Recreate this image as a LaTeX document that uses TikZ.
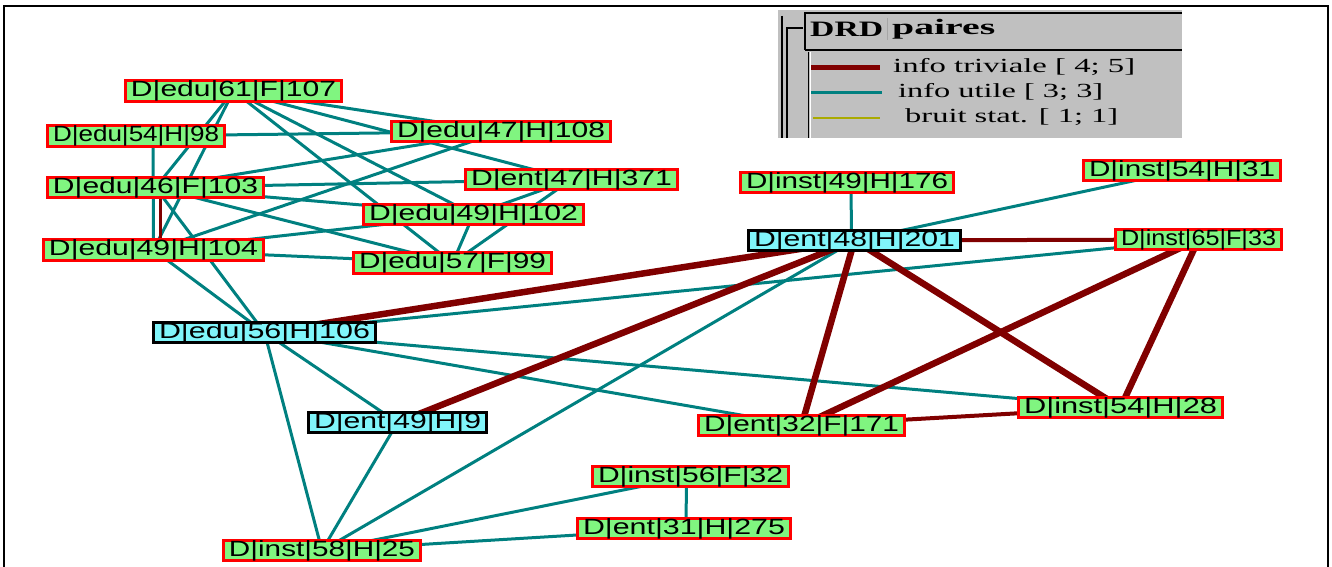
\documentclass[tikz,border=0pt]{standalone}
\usepackage{fontspec}
\usepackage{graphicx}
\setmainfont{Liberation Serif}
\newfontfamily\nfont{Liberation Sans}
\pgfdeclarelayer{bg}
\pgfsetlayers{bg,main}
\definecolor{tealc}{RGB}{0,128,128}
\definecolor{maroonc}{RGB}{128,0,0}
\definecolor{gnode}{RGB}{128,245,128}
\definecolor{cnode}{RGB}{128,245,250}
\definecolor{legbg}{RGB}{192,192,192}
\definecolor{olivec}{RGB}{170,170,0}
\definecolor{redb}{RGB}{255,0,0}
\newcommand{\lbl}[2]{\resizebox{#1pt}{\height}{\nfont #2}}
\newcommand{\lgt}[2]{\resizebox{#1pt}{\height}{\fontsize{20}{20}\selectfont #2}}
\newcommand{\lgh}[2]{\resizebox{#1pt}{\height}{\fontsize{22}{22}\selectfont\bfseries #2}}
\tikzset{
  gn/.style={draw=redb, line width=3pt, fill=gnode, inner sep=0pt, minimum height=20pt,
             font=\fontsize{22}{22}\selectfont},
  cn/.style={gn, draw=black, fill=cnode},
  ut/.style={draw=tealc, line width=3pt},
  tr/.style={draw=maroonc, line width=6.5pt},
  trm/.style={draw=maroonc, line width=4pt},
  trs/.style={draw=maroonc, line width=3pt},
  lg/.style={anchor=west, inner sep=0pt},
}
\begin{document}
\begin{tikzpicture}[x=1pt,y=-1pt]
\useasboundingbox (0,0) rectangle (1332,567);
\draw[line width=2pt] (4,568) -- (4,6) -- (1328,6) -- (1328,568);

% legend
\fill[legbg] (778,10) rectangle (1182,138);
\draw[line width=2pt] (782,16) -- (782,138);
\draw[line width=1.5pt] (787,138) -- (787,28) -- (803,28);
\draw[line width=2pt] (805,50) -- (805,13) -- (1182,13);
\draw[line width=1.2pt] (805,50) -- (1182,50);
\draw[line width=1pt] (808,52) -- (808,138);
\draw[white, line width=1pt] (810,52) -- (810,138);
\draw[gray!70, line width=1pt] (887,18) -- (887,40);
\draw[maroonc, line width=5pt] (811,68) -- (880,68);
\draw[tealc, line width=3pt] (811,93) -- (882,93);
\draw[olivec, line width=1.2pt] (813,118) -- (880,118);
\node[lg] (lh1) at (810,29) {\lgh{73}{DRD}};
\node[lg] (lh2) at (892,29) {\lgh{103}{paires}};
\node[lg] (lt1) at (893,67) {\lgt{242}{info triviale [ 4; 5]}};
\node[lg] (lt2) at (898,92) {\lgt{205}{info utile [ 3; 3]}};
\node[lg] (lt3) at (905,117) {\lgt{213}{bruit stat. [ 1; 1]}};

% nodes
\node[gn, minimum width=216pt] (A) at (233.5,91) {\lbl{205}{D|edu|61|F|107}};
\node[gn, minimum width=177pt] (B) at (136,136) {\lbl{166}{D|edu|54|H|98}};
\node[gn, minimum width=219pt] (C) at (501,131.5) {\lbl{208}{D|edu|47|H|108}};
\node[gn, minimum width=216pt] (D) at (155.5,187.5) {\lbl{205}{D|edu|46|F|103}};
\node[gn, minimum width=212pt] (E) at (571.5,179.5) {\lbl{201}{D|ent|47|H|371}};
\node[gn, minimum width=220pt] (F) at (473.5,214.5) {\lbl{209}{D|edu|49|H|102}};
\node[gn, minimum width=220pt] (G) at (153.5,250) {\lbl{209}{D|edu|49|H|104}};
\node[gn, minimum width=198pt] (H) at (452.5,263) {\lbl{187}{D|edu|57|F|99}};
\node[gn, minimum width=213pt] (n9) at (847,182.5) {\lbl{202}{D|inst|49|H|176}};
\node[gn, minimum width=197pt] (n10) at (1182,170.5) {\lbl{186}{D|inst|54|H|31}};
\node[cn, minimum width=212pt] (n11) at (854.5,240.5) {\lbl{201}{D|ent|48|H|201}};
\node[gn, minimum width=166pt] (n12) at (1198.5,239.5) {\lbl{155}{D|inst|65|F|33}};
\node[cn, minimum width=222pt] (I) at (264.5,332.5) {\lbl{211}{D|edu|56|H|106}};
\node[cn, minimum width=178pt] (n14) at (397.5,422.5) {\lbl{167}{D|ent|49|H|9}};
\node[gn, minimum width=206pt] (n15) at (801.5,425.5) {\lbl{195}{D|ent|32|F|171}};
\node[gn, minimum width=204pt] (n16) at (1120.5,407.5) {\lbl{193}{D|inst|54|H|28}};
\node[gn, minimum width=196pt] (n17) at (690.5,476.5) {\lbl{185}{D|inst|56|F|32}};
\node[gn, minimum width=213pt] (n18) at (684,528.5) {\lbl{202}{D|ent|31|H|275}};
\node[gn, minimum width=197pt] (n19) at (322,550.5) {\lbl{186}{D|inst|58|H|25}};

\begin{pgfonlayer}{bg}
% useful (teal) links
\draw[ut] ([xshift=4pt]n9.center) -- ([xshift=-3pt]n11.center);
\draw[ut] (n10.center) -- (n11.center);
\draw[ut] (n11.center) -- (n19.center);
\draw[ut] (n12.center) -- (I.center);
\draw[ut] (I.center) -- (n16.center);
\draw[ut] (I.center) -- (n15.center);
\draw[ut] (I.center) -- (n14.center);
\draw[ut] (I.center) -- (n19.center);
\draw[ut] (n14.center) -- (n19.center);
\draw[ut] (n17.center) -- (n19.center);
\draw[ut] ([xshift=-4pt]n17.center) -- ([xshift=2pt]n18.center);
\draw[ut] (n18.center) -- (n19.center);
\draw[ut] (A.center) -- (C.center);
\draw[ut] (A.center) -- (D.center);
\draw[ut] (A.center) -- (E.center);
\draw[ut] (A.center) -- (F.center);
\draw[ut] (A.center) -- (G.center);
\draw[ut] (A.center) -- (H.center);
\draw[ut] (B.center) -- (C.center);
\draw[ut] ([xshift=17pt]B.center) -- (G.center);
\draw[ut] (C.center) -- (D.center);
\draw[ut] (C.center) -- (G.center);
\draw[ut] (D.center) -- (E.center);
\draw[ut] (D.center) -- (F.center);
\draw[ut] (D.center) -- (H.center);
\draw[ut] (D.center) -- (I.center);
\draw[ut] (E.center) -- (F.center);
\draw[ut] (E.center) -- (H.center);
\draw[ut] (F.center) -- (G.center);
\draw[ut] (F.center) -- (H.center);
\draw[ut] (G.center) -- (H.center);
\draw[ut] (G.center) -- (I.center);
% trivial (dark red) links
\draw[trm] (n11.center) -- (n12.center);
\draw[tr] (n11.center) -- (I.center);
\draw[tr] (n11.center) -- (n14.center);
\draw[tr] (n11.center) -- (n15.center);
\draw[tr] (n11.center) -- (n16.center);
\draw[tr] (n12.center) -- (n15.center);
\draw[tr] (n12.center) -- (n16.center);
\draw[trm] (n15.center) -- (n16.center);
\draw[trs] ([xshift=5pt]D.center) -- ([xshift=7pt]G.center);
\end{pgfonlayer}
\end{tikzpicture}
\end{document}
